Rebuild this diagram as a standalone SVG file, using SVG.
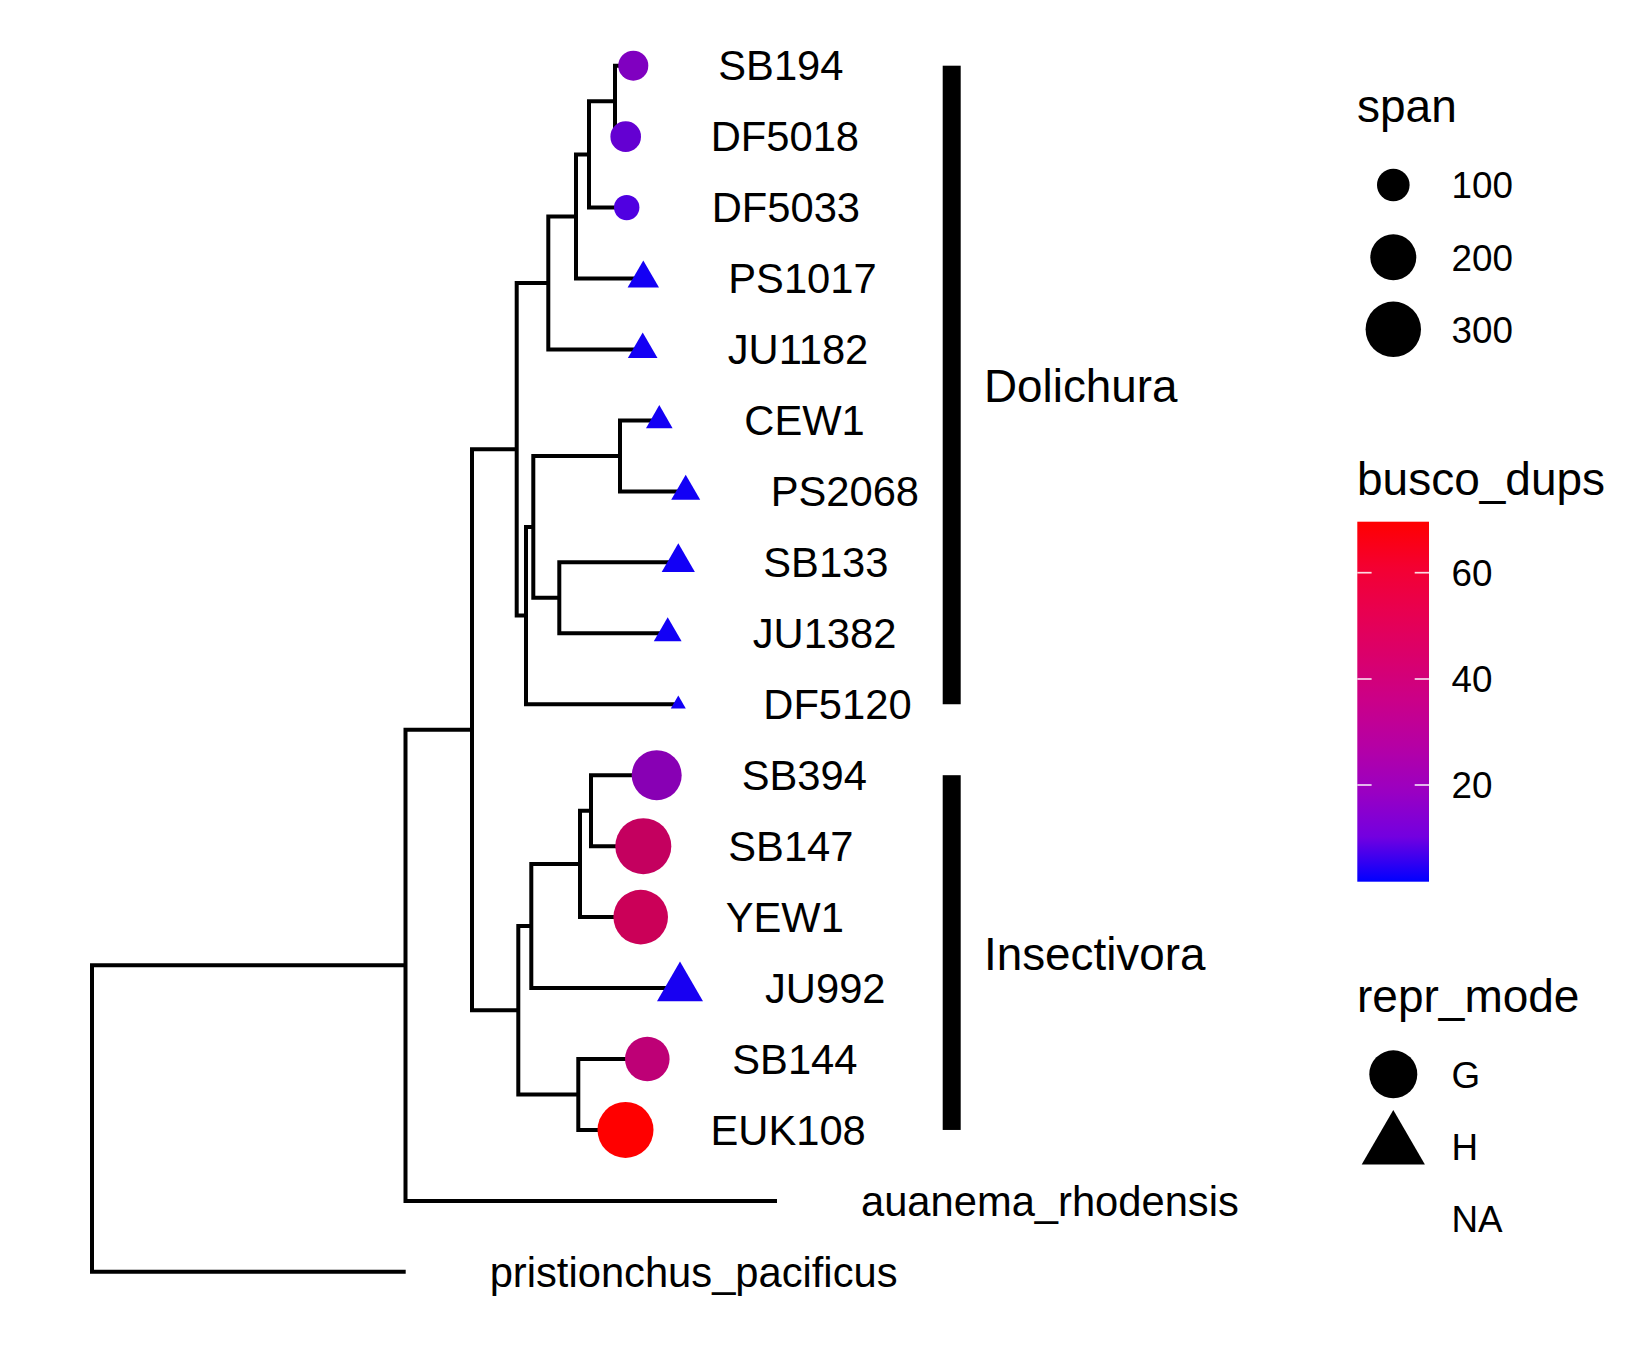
<svg xmlns="http://www.w3.org/2000/svg" width="1650" height="1350" viewBox="0 0 1650 1350">
<style>
text{font-family:"Liberation Sans",Arial,Helvetica,sans-serif;fill:#000}
.tip{font-size:41.7px}
.clade{font-size:45.8px}
.ltitle{font-size:46px}
.ltext{font-size:36.8px}
.edge{fill:none;stroke:#000;stroke-width:4;stroke-linejoin:miter;stroke-linecap:butt}
.bar{fill:#000}
.tick{stroke:#fff;stroke-width:1.7;opacity:0.85}
</style>
<defs>
<linearGradient id="busco" x1="0" y1="1" x2="0" y2="0">
<stop offset="0" stop-color="#0000FF"/>
<stop offset="0.125" stop-color="rgb(115,0,224)"/>
<stop offset="0.25" stop-color="rgb(154,0,194)"/>
<stop offset="0.375" stop-color="rgb(181,0,165)"/>
<stop offset="0.5" stop-color="rgb(202,0,137)"/>
<stop offset="0.625" stop-color="rgb(218,0,108)"/>
<stop offset="0.75" stop-color="rgb(232,0,80)"/>
<stop offset="0.875" stop-color="rgb(244,0,49)"/>
<stop offset="1" stop-color="#FF0000"/>
</linearGradient>
</defs>
<rect width="1650" height="1350" fill="#fff"/>
<g id="connectors">
<path class="edge" d="M633.3,65.7 H615 V136.65 H625.7"/>
<path class="edge" d="M615,101.18 H589 V207.6 H626.7"/>
<path class="edge" d="M589,154.39 H576 V278.55 H643.3"/>
<path class="edge" d="M576,216.47 H548.3 V349.5 H642.7"/>
<path class="edge" d="M659.3,420.45 H620 V491.4 H685.7"/>
<path class="edge" d="M678.3,562.35 H559.3 V633.3 H667.7"/>
<path class="edge" d="M620,455.93 H533.3 V597.83 H559.3"/>
<path class="edge" d="M533.3,526.88 H526 V704.25 H678.3"/>
<path class="edge" d="M548.3,282.98 H516.7 V615.56 H526"/>
<path class="edge" d="M656.7,775.2 H591 V846.15 H643.3"/>
<path class="edge" d="M591,810.68 H580 V917.1 H640.7"/>
<path class="edge" d="M580,863.89 H531.3 V988.05 H680"/>
<path class="edge" d="M647.3,1059 H578.3 V1129.95 H625.5"/>
<path class="edge" d="M531.3,925.97 H518.3 V1094.48 H578.3"/>
<path class="edge" d="M516.7,449.27 H472 V1010.22 H518.3"/>
<path class="edge" d="M472,729.77 H405.5 V1200.9 H777"/>
<path class="edge" d="M405.5,965.34 H92 V1271.85 H405.7"/>
</g>
<g id="tip-SB194"><circle cx="633.3" cy="65.7" r="15" fill="#8000C0"/><text class="tip" x="718.3" y="80.4">SB194</text></g>
<g id="tip-DF5018"><circle cx="625.7" cy="136.65" r="15.3" fill="#6400D2"/><text class="tip" x="710.7" y="151.35">DF5018</text></g>
<g id="tip-DF5033"><circle cx="626.7" cy="207.6" r="12.7" fill="#5000E1"/><text class="tip" x="711.7" y="222.3">DF5033</text></g>
<g id="tip-PS1017"><polygon points="643.3,260.45 627.6,287.6 659,287.6" fill="#1400F4"/><text class="tip" x="728.3" y="293.25">PS1017</text></g>
<g id="tip-JU1182"><polygon points="642.7,332.4 627.9,358.05 657.5,358.05" fill="#1400F4"/><text class="tip" x="727.7" y="364.2">JU1182</text></g>
<g id="tip-CEW1"><polygon points="659.3,405.05 646,428.15 672.6,428.15" fill="#1400F4"/><text class="tip" x="744.3" y="435.15">CEW1</text></g>
<g id="tip-PS2068"><polygon points="685.7,474.7 671.2,499.75 700.2,499.75" fill="#1200F6"/><text class="tip" x="770.7" y="506.1">PS2068</text></g>
<g id="tip-SB133"><polygon points="678.3,543.15 661.7,571.95 694.9,571.95" fill="#1200F6"/><text class="tip" x="763.3" y="577.05">SB133</text></g>
<g id="tip-JU1382"><polygon points="667.7,617.3 653.8,641.3 681.6,641.3" fill="#1200F6"/><text class="tip" x="752.7" y="648">JU1382</text></g>
<g id="tip-DF5120"><polygon points="678.3,695.55 670.8,708.6 685.8,708.6" fill="#1200F6"/><text class="tip" x="763.3" y="718.95">DF5120</text></g>
<g id="tip-SB394"><circle cx="656.7" cy="775.2" r="25" fill="#8800B4"/><text class="tip" x="741.7" y="789.9">SB394</text></g>
<g id="tip-SB147"><circle cx="643.3" cy="846.15" r="28" fill="#C4005F"/><text class="tip" x="728.3" y="860.85">SB147</text></g>
<g id="tip-YEW1"><circle cx="640.7" cy="917.1" r="27.3" fill="#CB0058"/><text class="tip" x="725.7" y="931.8">YEW1</text></g>
<g id="tip-JU992"><polygon points="680,961.45 657,1001.35 703,1001.35" fill="#1800F2"/><text class="tip" x="765" y="1002.75">JU992</text></g>
<g id="tip-SB144"><circle cx="647.3" cy="1059" r="22.3" fill="#BE0076"/><text class="tip" x="732.3" y="1073.7">SB144</text></g>
<g id="tip-EUK108"><circle cx="625.5" cy="1129.95" r="28" fill="#FF0000"/><text class="tip" x="710.5" y="1144.65">EUK108</text></g>
<g id="tip-auanema"><text class="tip" x="861" y="1215.6">auanema_rhodensis</text></g>
<g id="tip-pristionchus"><text class="tip" x="489.7" y="1286.55">pristionchus_pacificus</text></g>
<g id="clade-Dolichura"><rect class="bar" x="942.7" y="65.7" width="18" height="638.55"/><text class="clade" x="984" y="401.7">Dolichura</text></g>
<g id="clade-Insectivora"><rect class="bar" x="942.7" y="775.2" width="18" height="354.75"/><text class="clade" x="984" y="969.5">Insectivora</text></g>
<g id="legend-span">
<text class="ltitle" x="1357" y="121.7">span</text>
<circle cx="1393.3" cy="185" r="16.3" fill="#000"/>
<circle cx="1393.3" cy="257.3" r="23" fill="#000"/>
<circle cx="1393.3" cy="329.3" r="27.7" fill="#000"/>
<text class="ltext" x="1451.5" y="198.3">100</text>
<text class="ltext" x="1451.5" y="270.7">200</text>
<text class="ltext" x="1451.5" y="342.7">300</text>
</g>
<g id="legend-busco">
<text class="ltitle" x="1357" y="495">busco_dups</text>
<rect x="1357.3" y="521.7" width="71.7" height="360" fill="url(#busco)"/>
<line class="tick" x1="1357.3" y1="572.7" x2="1371.6" y2="572.7"/>
<line class="tick" x1="1414.7" y1="572.7" x2="1429" y2="572.7"/>
<line class="tick" x1="1357.3" y1="679" x2="1371.6" y2="679"/>
<line class="tick" x1="1414.7" y1="679" x2="1429" y2="679"/>
<line class="tick" x1="1357.3" y1="785" x2="1371.6" y2="785"/>
<line class="tick" x1="1414.7" y1="785" x2="1429" y2="785"/>
<text class="ltext" x="1451.5" y="586">60</text>
<text class="ltext" x="1451.5" y="692.3">40</text>
<text class="ltext" x="1451.5" y="798.3">20</text>
</g>
<g id="legend-repr">
<text class="ltitle" x="1357" y="1011.7">repr_mode</text>
<circle cx="1393.3" cy="1074.3" r="24" fill="#000"/>
<polygon points="1393.3,1110 1361.7,1164.5 1424.9,1164.5" fill="#000"/>
<text class="ltext" x="1451.5" y="1087.7">G</text>
<text class="ltext" x="1451.5" y="1160">H</text>
<text class="ltext" x="1451.5" y="1231.7">NA</text>
</g>
</svg>
